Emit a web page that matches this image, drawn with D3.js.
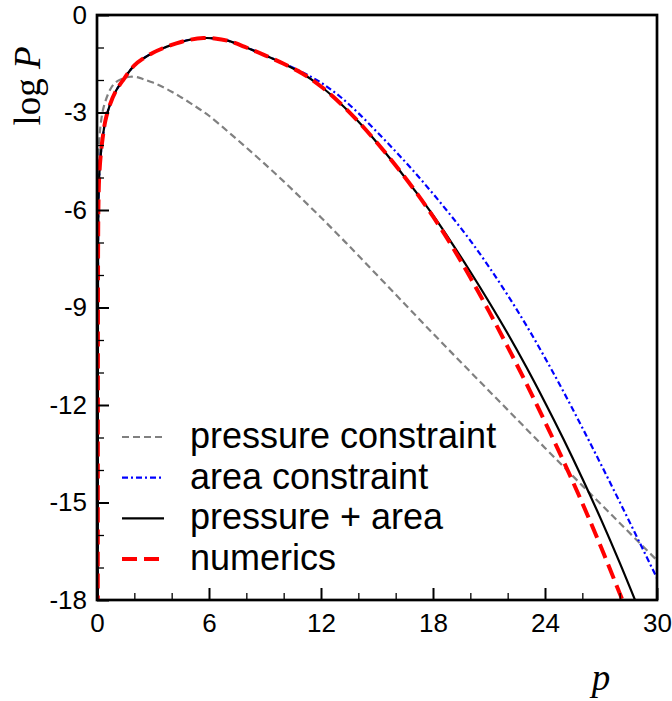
<!DOCTYPE html>
<html>
<head>
<meta charset="utf-8">
<script src="https://cdn.jsdelivr.net/npm/d3@7"></script>
<style>
  body { margin: 0; background: #fff; }
  svg { display: block; }
</style>
</head>
<body>
<div id="chart"></div>
<script>
// values: p on x, log P on y
let pressureP = [0.06, 0.12, 0.2, 0.35, 0.7, 1.0, 1.4, 1.8, 2.2, 2.5, 3, 3.5, 4, 4.5, 5, 5.5, 6, 7, 8, 9, 10, 11, 12, 13, 14, 16, 18, 20, 22, 24, 26, 28, 30];
let pressureLogP = [-5.0, -3.9, -3.35, -2.85, -2.3, -2.07, -1.95, -1.9, -1.92, -1.98, -2.08, -2.21, -2.36, -2.53, -2.71, -2.9, -3.1, -3.58, -4.08, -4.59, -5.12, -5.67, -6.23, -6.81, -7.4, -8.6, -9.8, -10.98, -12.15, -13.32, -14.48, -15.63, -16.78];

let areaP = [0.04, 0.045, 0.05, 0.06, 0.08, 0.12, 0.2, 0.3, 0.45, 0.7, 1.0, 1.4, 2.0, 2.5, 3.0, 3.5, 4.0, 4.5, 5.0, 5.7, 6.3, 7, 8, 9, 10, 11, 12, 13, 14, 15, 16, 17, 18, 19, 20, 21, 22, 23, 24, 25, 26, 27, 28, 29, 30];
let areaLogP = [-19, -14, -10, -7, -5.7, -4.95, -4.3, -3.8, -3.25, -2.75, -2.35, -2.0, -1.55, -1.33, -1.16, -1.03, -0.92, -0.83, -0.76, -0.71, -0.72, -0.79, -1.0, -1.24, -1.49, -1.76, -2.08, -2.5, -3.02, -3.6, -4.2, -4.83, -5.5, -6.2, -6.94, -7.75, -8.62, -9.55, -10.55, -11.6, -12.7, -13.83, -14.98, -16.15, -17.33];

let bothP = [0.04, 0.045, 0.05, 0.06, 0.08, 0.12, 0.2, 0.3, 0.45, 0.7, 1.0, 1.4, 2.0, 2.5, 3.0, 3.5, 4.0, 4.5, 5.0, 5.7, 6.3, 7, 8, 9, 10, 11, 12, 13, 14, 15, 16, 17, 18, 19, 20, 21, 22, 23, 24, 25, 26, 27, 28, 29];
let bothLogP = [-19, -14, -10, -7, -5.7, -4.95, -4.3, -3.8, -3.25, -2.75, -2.35, -2.0, -1.55, -1.33, -1.16, -1.03, -0.92, -0.83, -0.76, -0.71, -0.72, -0.79, -1.0, -1.24, -1.5, -1.8, -2.2, -2.7, -3.28, -3.93, -4.63, -5.38, -6.16, -7.01, -7.9, -8.83, -9.8, -10.83, -11.92, -13.06, -14.26, -15.52, -16.85, -18.25];

let numericsP = [0.04, 0.045, 0.05, 0.06, 0.08, 0.12, 0.2, 0.3, 0.45, 0.7, 1.0, 1.4, 2.0, 2.5, 3.0, 3.5, 4.0, 4.5, 5.0, 5.7, 6.3, 7, 8, 9, 10, 11, 12, 13, 14, 15, 16, 17, 18, 19, 20, 21, 22, 23, 24, 25, 26, 27, 28, 28.5];
let numericsLogP = [-19, -14, -10, -7, -5.7, -4.95, -4.3, -3.8, -3.25, -2.75, -2.35, -2.0, -1.55, -1.33, -1.16, -1.03, -0.92, -0.83, -0.76, -0.71, -0.72, -0.79, -1.0, -1.24, -1.5, -1.8, -2.2, -2.7, -3.28, -3.93, -4.63, -5.38, -6.2, -7.1, -8.08, -9.12, -10.21, -11.34, -12.52, -13.74, -15.02, -16.37, -17.79, -18.5];

let xTicks = [0, 6, 12, 18, 24, 30];
let yTicks = [0, -3, -6, -9, -12, -15, -18];
let legendLabels = ["pressure constraint", "area constraint", "pressure + area", "numerics"];

let w = 672, h = 701;
let padLeft = 97, padRight = 657, padTop = 15, padBottom = 600;

let viz = d3.select("#chart").append("svg")
    .attr("width", w)
    .attr("height", h)
;

let xScale = d3.scaleLinear().domain([0, 30]).range([padLeft, padRight]);
let yScale = d3.scaleLinear().domain([-18, 0]).range([padBottom, padTop]);

viz.append("clipPath").attr("id", "plotclip")
  .append("rect")
    .attr("x", padLeft).attr("y", padTop)
    .attr("width", padRight - padLeft).attr("height", padBottom - padTop);

// series styles
let series = [
  {p: pressureP, v: pressureLogP, color: "#808080", width: 2.2, dash: "7,4"},
  {p: areaP, v: areaLogP, color: "#0000ff", width: 2.2, dash: "6,3,2,3"},
  {p: bothP, v: bothLogP, color: "#000000", width: 2.2, dash: null},
  {p: numericsP, v: numericsLogP, color: "#ff0000", width: 4, dash: "15,7"}
];

let lineMaker = d3.line()
    .x(function(d){ return xScale(d[0]); })
    .y(function(d){ return yScale(d[1]); })
    .curve(d3.curveCatmullRom.alpha(0.5))
;

let plot = viz.append("g").attr("clip-path", "url(#plotclip)");
series.forEach(function(s){
  let pts = s.p.map(function(p, i){ return [p, s.v[i]]; });
  plot.append("path")
      .datum(pts)
      .attr("d", lineMaker)
      .attr("fill", "none")
      .attr("stroke", s.color)
      .attr("stroke-width", s.width)
      .attr("stroke-dasharray", s.dash)
  ;
});

// minor ticks
let xMinor = d3.range(0, 31, 2).filter(function(d){ return d % 6 != 0; });
let yMinor = d3.range(-18, 1, 1).filter(function(d){ return d % 3 != 0; });

let xMinorAxis = d3.axisBottom(xScale).tickValues(xMinor).tickSize(-7).tickFormat("");
let yMinorAxis = d3.axisLeft(yScale).tickValues(yMinor).tickSize(-7).tickFormat("");
viz.append("g").attr("transform", "translate(0," + padBottom + ")").call(xMinorAxis)
  .call(function(g){ g.select(".domain").remove(); })
  .selectAll("line").attr("stroke-width", 1.3);
viz.append("g").attr("transform", "translate(" + padLeft + ",0)").call(yMinorAxis)
  .call(function(g){ g.select(".domain").remove(); })
  .selectAll("line").attr("stroke-width", 1.3);

// major ticks with labels
let xAxis = d3.axisBottom(xScale).tickValues(xTicks).tickSize(-12).tickPadding(14)
    .tickFormat(function(d){ return String(d); });
let yAxis = d3.axisLeft(yScale).tickValues(yTicks).tickSize(-12).tickPadding(10)
    .tickFormat(function(d){ return String(d); });

let xAxisGroup = viz.append("g").attr("transform", "translate(0," + padBottom + ")").call(xAxis);
let yAxisGroup = viz.append("g").attr("transform", "translate(" + padLeft + ",0)").call(yAxis);
[xAxisGroup, yAxisGroup].forEach(function(g){
  g.select(".domain").remove();
  g.selectAll("line").attr("stroke-width", 2);
  g.selectAll("text")
    .attr("fill", "#000")
    .style("font-family", "'Liberation Sans', Arial, Helvetica, sans-serif")
    .style("font-size", "26px");
});

// frame
viz.append("rect")
    .attr("x", padLeft).attr("y", padTop)
    .attr("width", padRight - padLeft).attr("height", padBottom - padTop)
    .attr("fill", "none")
    .attr("stroke", "#000")
    .attr("stroke-width", 2.7)
;

// axis titles
let yTitle = viz.append("text")
    .attr("transform", "translate(40,86) rotate(-90)")
    .attr("text-anchor", "middle")
    .style("font-family", "'Liberation Serif', 'Times New Roman', serif")
    .style("font-size", "37px")
;
yTitle.append("tspan").text("log ");
yTitle.append("tspan").style("font-style", "italic").text("P");

viz.append("text")
    .attr("x", 601).attr("y", 690)
    .attr("text-anchor", "middle")
    .style("font-family", "'Liberation Serif', 'Times New Roman', serif")
    .style("font-size", "37px")
    .style("font-style", "italic")
    .text("p")
;

// legend
let legendY = d3.scalePoint().domain(legendLabels).range([437, 559]);
let legend = viz.append("g");
legendLabels.forEach(function(label, i){
  let s = series[i];
  let y = legendY(label);
  legend.append("line")
      .attr("x1", 122).attr("x2", 164)
      .attr("y1", y).attr("y2", y)
      .attr("stroke", s.color)
      .attr("stroke-width", s.width)
      .attr("stroke-dasharray", s.dash)
  ;
  legend.append("text")
      .attr("x", 190).attr("y", y + 11)
      .style("font-family", "'Liberation Sans', Arial, Helvetica, sans-serif")
      .style("font-size", "36px")
      .text(label)
  ;
});
</script>
</body>
</html>
